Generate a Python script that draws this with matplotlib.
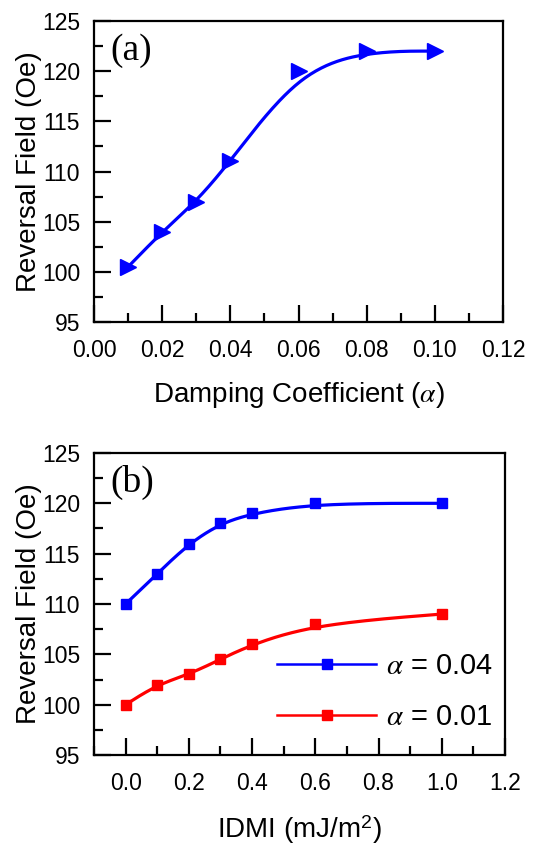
import matplotlib
matplotlib.use("Agg")
import matplotlib.pyplot as plt
import numpy as np
from matplotlib.ticker import MultipleLocator

# panel (a): reversal field vs damping coefficient
alpha_vals = [0.01, 0.02, 0.03, 0.04, 0.06, 0.08, 0.10]
field_a = [100.5, 104, 107, 111, 120, 122, 122]

# panel (b): reversal field vs interfacial DMI
idmi = [0.0, 0.1, 0.2, 0.3, 0.4, 0.6, 1.0]
field_004 = [110, 113, 116, 118, 119, 120, 120]
field_001 = [100, 102, 103, 104.5, 106, 108, 109]
legend_labels = [r"$\alpha$ = 0.04", r"$\alpha$ = 0.01"]


def bspline(x, y, n=40):
    """uniform cubic B-spline through clamped end points"""
    px = np.r_[[x[0]] * 2, x, [x[-1]] * 2].astype(float)
    py = np.r_[[y[0]] * 2, y, [y[-1]] * 2].astype(float)
    t = np.linspace(0, 1, n)
    b0 = (1 - t) ** 3 / 6
    b1 = (3 * t ** 3 - 6 * t ** 2 + 4) / 6
    b2 = (-3 * t ** 3 + 3 * t ** 2 + 3 * t + 1) / 6
    b3 = t ** 3 / 6
    xs, ys = [], []
    for i in range(len(px) - 3):
        xs.append(b0 * px[i] + b1 * px[i + 1] + b2 * px[i + 2] + b3 * px[i + 3])
        ys.append(b0 * py[i] + b1 * py[i + 1] + b2 * py[i + 2] + b3 * py[i + 3])
    return np.concatenate(xs), np.concatenate(ys)


def style_axes(ax):
    for s in ax.spines.values():
        s.set_linewidth(1.6)
    ax.tick_params(which="both", direction="in", top=False, right=False,
                   width=1.6, labelsize=16.5)
    ax.tick_params(which="major", length=12)
    ax.tick_params(which="minor", length=6.5)
    ax.tick_params(axis="x", pad=12)
    ax.tick_params(axis="y", pad=10)
    ax.set_ylim(95, 125)
    ax.yaxis.set_major_locator(MultipleLocator(5))
    ax.yaxis.set_minor_locator(MultipleLocator(2.5))
    ax.set_ylabel("Reversal Field (Oe)", fontsize=20, labelpad=0)


plt.rcParams["font.family"] = ["Liberation Sans", "DejaVu Sans"]
plt.rcParams["mathtext.fontset"] = "stix"

fig = plt.figure(figsize=(5.48, 8.47), dpi=100)

ax1 = fig.add_axes([0.1715, 0.6198, 0.7465, 0.3554])
sx, sy = bspline(alpha_vals, field_a)
ax1.plot(sx, sy, color="#0000ff", lw=2.3)
ax1.plot(alpha_vals, field_a, ">", color="#0000ff", ms=11, ls="none")
ax1.set_xlim(0, 0.12)
ax1.xaxis.set_major_locator(MultipleLocator(0.02))
ax1.xaxis.set_minor_locator(MultipleLocator(0.01))
ax1.xaxis.set_major_formatter(lambda v, p: f"{v:.2f}")
style_axes(ax1)
ax1.set_xlabel(r"Damping Coefficient ($\alpha$)", fontsize=20, labelpad=13)
ax1.text(0.04, 0.96, "(a)", transform=ax1.transAxes, ha="left", va="top",
         fontsize=27, family="Liberation Serif")

ax2 = fig.add_axes([0.1715, 0.1086, 0.75, 0.3566])
for ys, col, lab in [(field_004, "#0000ff", legend_labels[0]),
                     (field_001, "#ff0000", legend_labels[1])]:
    sx, sy = bspline(idmi, ys)
    ax2.plot(sx, sy, color=col, lw=2.3)
    ax2.plot(idmi, ys, "s", color=col, ms=7.5, ls="none")
    ax2.plot([], [], "-s", color=col, lw=1.8, ms=7.5, label=lab)
ax2.set_xlim(-0.1, 1.2)
ax2.xaxis.set_major_locator(MultipleLocator(0.2))
ax2.xaxis.set_minor_locator(MultipleLocator(0.1))
ax2.xaxis.set_major_formatter(lambda v, p: f"{v:.1f}")
style_axes(ax2)
ax2.set_xlabel(r"IDMI (mJ/m$^\mathregular{2}$)", fontsize=20, labelpad=13)
ax2.text(0.04, 0.96, "(b)", transform=ax2.transAxes, ha="left", va="top",
         fontsize=27, family="Liberation Serif")
ax2.legend(loc="lower right", fontsize=21, frameon=False, handlelength=3.4,
           handletextpad=0.35, labelspacing=0.8, borderaxespad=0,
           bbox_to_anchor=(1.0, 0.04))

fig.savefig("out.png", dpi=100)
